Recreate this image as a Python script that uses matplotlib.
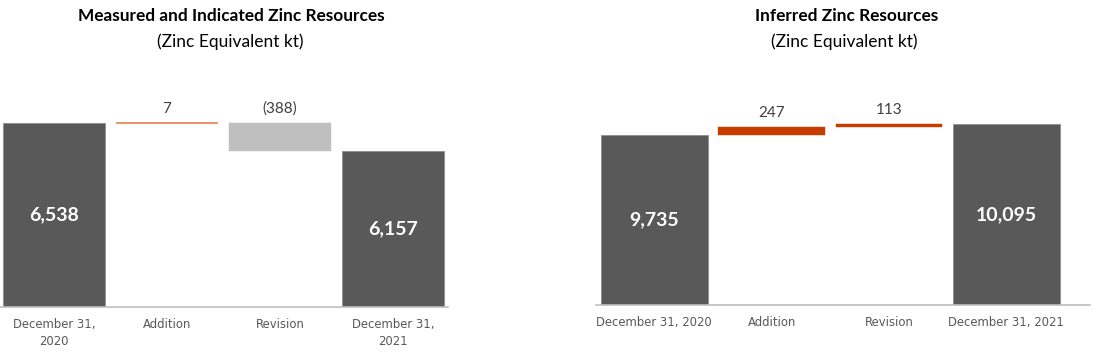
import matplotlib
matplotlib.use("Agg")
import matplotlib.pyplot as plt

# data
left_cats = ["December 31,\n2020", "Addition", "Revision", "December 31,\n2021"]
left_start = 6538
left_deltas = [7, -388]
left_end = 6157

right_cats = ["December 31, 2020", "Addition", "Revision", "December 31, 2021"]
right_start = 9735
right_deltas = [247, 113]
right_end = 10095

DARK = "#595959"
LIGHT = "#BFBFBF"
TXT = "#404040"
W, H = 1098, 354


def fmt(v):
    return "({:,})".format(-v) if v < 0 else "{:,}".format(v)


def px_axes(fig, x0, x1, ybot, ytop):
    # pixel box (top-left origin) -> figure fraction
    return fig.add_axes([x0 / W, (H - ybot) / H, (x1 - x0) / W, (ybot - ytop) / H])


def waterfall(ax, cats, start, deltas, end, ylim, xlim, width, up_color):
    x = list(range(len(cats)))
    ax.bar(x[0], start - ylim[0], bottom=ylim[0], width=width, color=DARK,
           edgecolor="#8f8f8f", linewidth=0.6)
    run = start
    for i, d in enumerate(deltas, start=1):
        lo = min(run, run + d)
        col = up_color if d > 0 else LIGHT
        ax.bar(i, abs(d), bottom=lo, width=width, color=col, edgecolor=col,
               linewidth=1.1 if abs(d) < 20 else 0.3)
        ax.annotate(fmt(d), (i, lo + abs(d)), xytext=(0, 14), textcoords="offset pixels",
                    ha="center", va="center", fontsize=11, color=TXT, family="Lato")
        run += d
    ax.bar(x[-1], end - ylim[0], bottom=ylim[0], width=width, color=DARK,
           edgecolor="#8f8f8f", linewidth=0.6)
    for xi, v in ((x[0], start), (x[-1], end)):
        ax.text(xi, (ylim[0] + v) / 2, "{:,}".format(v), ha="center", va="center",
                fontsize=14, fontweight="bold", color="white", family="Lato")
    ax.set_ylim(*ylim)
    ax.set_xlim(*xlim)
    ax.set_xticks(x)
    ax.set_xticklabels(cats, fontsize=8.4, color=DARK, family="DejaVu Sans", linespacing=1.45)
    ax.tick_params(axis="x", length=0, pad=8)
    ax.set_yticks([])
    for s in ("left", "right", "top"):
        ax.spines[s].set_visible(False)
    ax.spines["bottom"].set_color(LIGHT)
    ax.spines["bottom"].set_linewidth(1.2)


fig = plt.figure(figsize=(W / 100, H / 100), dpi=100)

ax1 = px_axes(fig, 0, 448, 306.7, 60)
waterfall(ax1, left_cats, left_start, left_deltas, left_end,
          (3980, 3980 + 246.7 * 13.95), (-54 / 113, 394 / 113), 0.9, "#EC7440")

ax2 = px_axes(fig, 595.7, 1090, 305.3, 60)
waterfall(ax2, right_cats, right_start, right_deltas, right_end,
          (4100, 4100 + 245.3 * 33), (-0.5, 3.714), 0.91, "#C83C00")

fig.text(231 / W, 1 - 16 / H, "Measured and Indicated Zinc Resources", ha="center", va="center",
         fontsize=12.4, fontweight="bold", color="black", family="Lato")
fig.text(230 / W, 1 - 42 / H, "(Zinc Equivalent kt)", ha="center", va="center",
         fontsize=12.5, color="black", family="Lato")
fig.text(847 / W, 1 - 16 / H, "Inferred Zinc Resources", ha="center", va="center",
         fontsize=12.4, fontweight="bold", color="black", family="Lato")
fig.text(844 / W, 1 - 42 / H, "(Zinc Equivalent kt)", ha="center", va="center",
         fontsize=12.5, color="black", family="Lato")

fig.savefig("out.png", dpi=100, facecolor="white")
